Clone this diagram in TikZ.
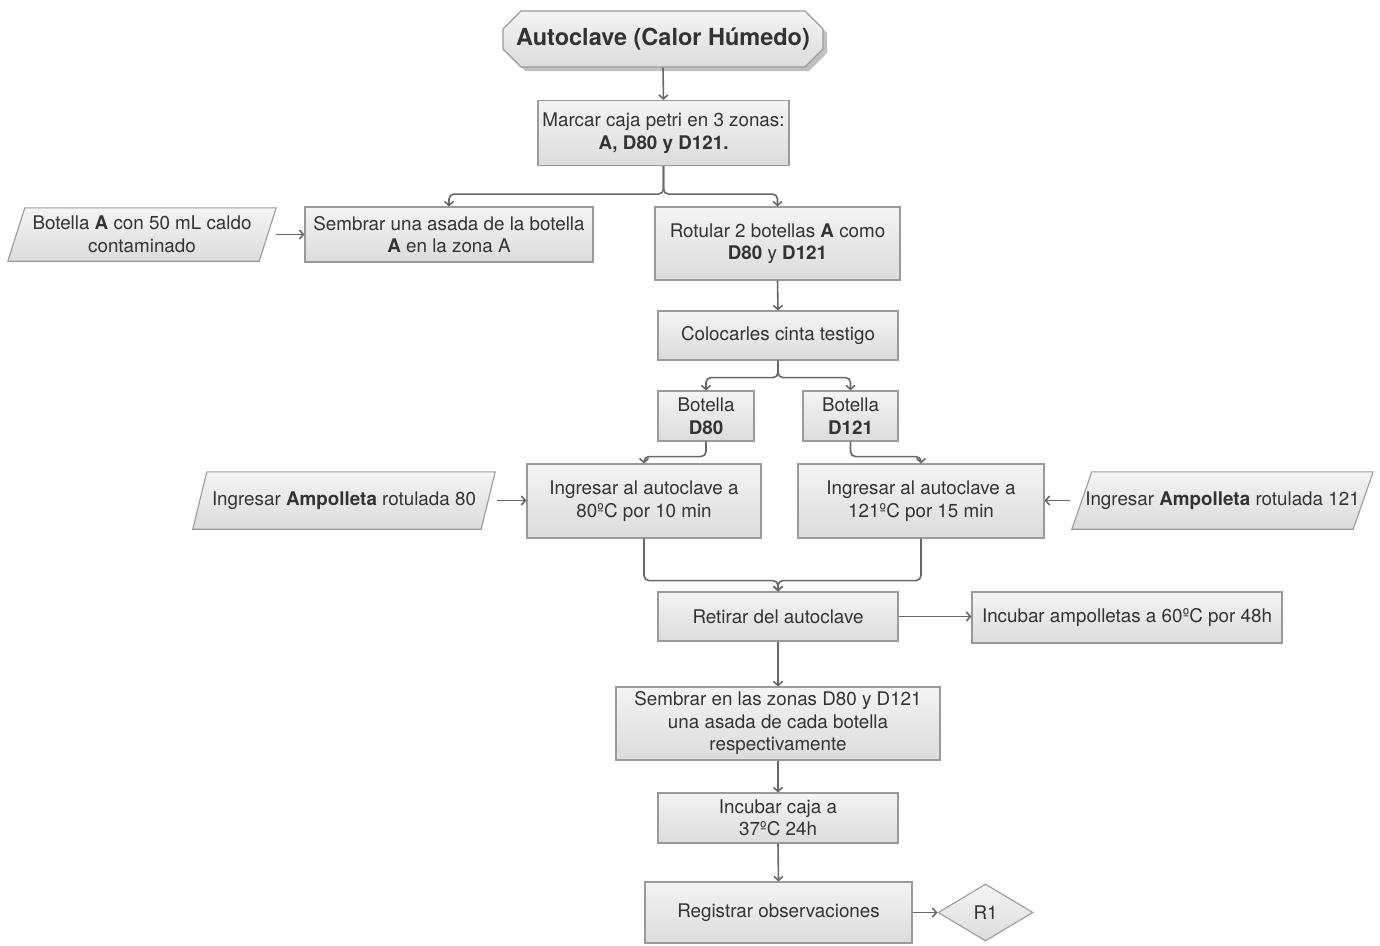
\documentclass[tikz,border=0pt]{standalone}
\usepackage{fontspec}
\setmainfont{TeX Gyre Heros}
\usetikzlibrary{arrows.meta,calc,shapes.misc,shapes.geometric,shadows,backgrounds}

\definecolor{boxline}{HTML}{9A9A9A}
\definecolor{boxtop}{HTML}{F4F4F4}
\definecolor{boxbot}{HTML}{DCDCDC}
\definecolor{ink}{HTML}{333333}
\definecolor{wire}{HTML}{686868}

\begin{document}
\begin{tikzpicture}[x=1pt,y=-1pt,
  every node/.style={text=ink, font=\fontsize{18.8}{22.5}\selectfont, align=center, inner sep=0pt},
  proc/.style={draw=boxline, line width=1.1pt, top color=boxtop, bottom color=boxbot},
  titlebox/.style={chamfered rectangle, chamfered rectangle xsep=9pt, chamfered rectangle ysep=9pt,
    draw=boxline, line width=1.1pt, top color=boxtop, bottom color=boxbot,
    drop shadow={shadow xshift=4pt, shadow yshift=-4pt, fill=black!35, opacity=0.7},
    font=\bfseries\fontsize{23.5}{28}\selectfont},
  slanted/.style={draw=boxline, line width=1.1pt, top color=boxtop, bottom color=boxbot},
  exitbox/.style={diamond, draw=boxline, line width=1.1pt, top color=boxtop, bottom color=boxbot},
  conn/.style={draw=wire, line width=1.6pt, rounded corners=5pt, -{Straight Barb[length=4pt,width=9pt]}},
]
\useasboundingbox (0,0) rectangle (1380,945);

% process boxes
\node[titlebox, minimum width=320pt, minimum height=56pt] (title) at (663,39) {Autoclave (Calor Húmedo)};
\node[proc, minimum width=251pt, minimum height=65pt] (marcar) at (663.5,133) {Marcar caja petri en 3 zonas:\\\textbf{A, D80 y D121.}};
\node[proc, minimum width=288pt, minimum height=55pt] (sembA) at (449,234.5) {Sembrar una asada de la botella\\\textbf{A} en la zona A};
\node[minimum width=268pt, minimum height=53pt] (botA) at (142,234.5) {Botella \textbf{A} con 50 mL caldo\\contaminado};
\node[proc, minimum width=245pt, minimum height=73pt] (rotular) at (777.5,243.5) {Rotular 2 botellas \textbf{A} como\\\textbf{D80} y \textbf{D121}};
\node[proc, minimum width=240pt, minimum height=49pt] (coloc) at (778,335.5) {Colocarles cinta testigo};
\node[proc, minimum width=96pt, minimum height=50pt] (bD80) at (706,416) {Botella\\\textbf{D80}};
\node[proc, minimum width=95pt, minimum height=50pt] (bD121) at (850.5,416) {Botella\\\textbf{D121}};
\node[proc, minimum width=234pt, minimum height=74pt] (ing80) at (644,501) {Ingresar al autoclave a\\80ºC por 10 min};
\node[proc, minimum width=246pt, minimum height=74pt] (ing121) at (921,501) {Ingresar al autoclave a\\121ºC por 15 min};
\node[minimum width=302pt, minimum height=57pt] (amp80) at (344,500.5) {Ingresar \textbf{Ampolleta} rotulada 80};
\node[minimum width=301pt, minimum height=57pt] (amp121) at (1222.5,500.5) {Ingresar \textbf{Ampolleta} rotulada 121};
\node[proc, minimum width=240pt, minimum height=49pt] (retirar) at (778,616.5) {Retirar del autoclave};
\node[proc, minimum width=310pt, minimum height=51pt] (incAmp) at (1127,617.5) {Incubar ampolletas a 60ºC por 48h};
\node[proc, minimum width=324pt, minimum height=73pt] (sembZ) at (778,723.5) {Sembrar en las zonas D80 y D121\\una asada de cada botella\\respectivamente};
\node[proc, minimum width=240pt, minimum height=50pt] (incCaja) at (778,818) {Incubar caja a\\37ºC 24h};
\node[proc, minimum width=267pt, minimum height=61pt] (regis) at (778.5,912.5) {Registrar observaciones};
\node[exitbox, minimum width=95pt, minimum height=57pt] (r1) at (985.5,912.5) {R1};

% input parallelograms behind their labels
\begin{scope}[on background layer]
  \foreach \n/\s in {botA/17, amp80/14, amp121/20}{
    \path[slanted] ([xshift=\s pt]\n.north west) -- (\n.north east)
      -- ([xshift=-\s pt]\n.south east) -- (\n.south west) -- cycle;
  }
\end{scope}

% connectors
\draw[conn] (title.south) -- (marcar.north);
\draw[conn] (marcar.south) -- ++(0,28) -| (sembA.north);
\draw[conn] (marcar.south) -- ++(0,28) -| (rotular.north);
\draw[conn] (botA.east) -- (sembA.west);
\draw[conn] (rotular.south) -- (coloc.north);
\draw[conn] (coloc.south) -- ++(0,17) -| (bD80.north);
\draw[conn] (coloc.south) -- ++(0,17) -| (bD121.north);
\draw[conn] (bD80.south) -- ++(0,15) -| (ing80.north);
\draw[conn] (bD121.south) -- ++(0,15) -| (ing121.north);
\draw[conn, shorten <=2pt] (amp80.east) -- (amp80.east -| ing80.west);
\draw[conn, shorten <=2pt] (amp121.west) -- (amp121.west -| ing121.east);
\draw[conn] (ing80.south) -- ++(0,42) -| (retirar.north);
\draw[conn] (ing121.south) -- ++(0,42) -| (retirar.north);
\draw[conn] (retirar.east) -- (retirar.east -| incAmp.west);
\draw[conn] (retirar.south) -- (sembZ.north);
\draw[conn] (sembZ.south) -- (incCaja.north);
\draw[conn] (incCaja.south) -- (regis.north);
\draw[conn] (regis.east) -- (r1.west);
\end{tikzpicture}
\end{document}
